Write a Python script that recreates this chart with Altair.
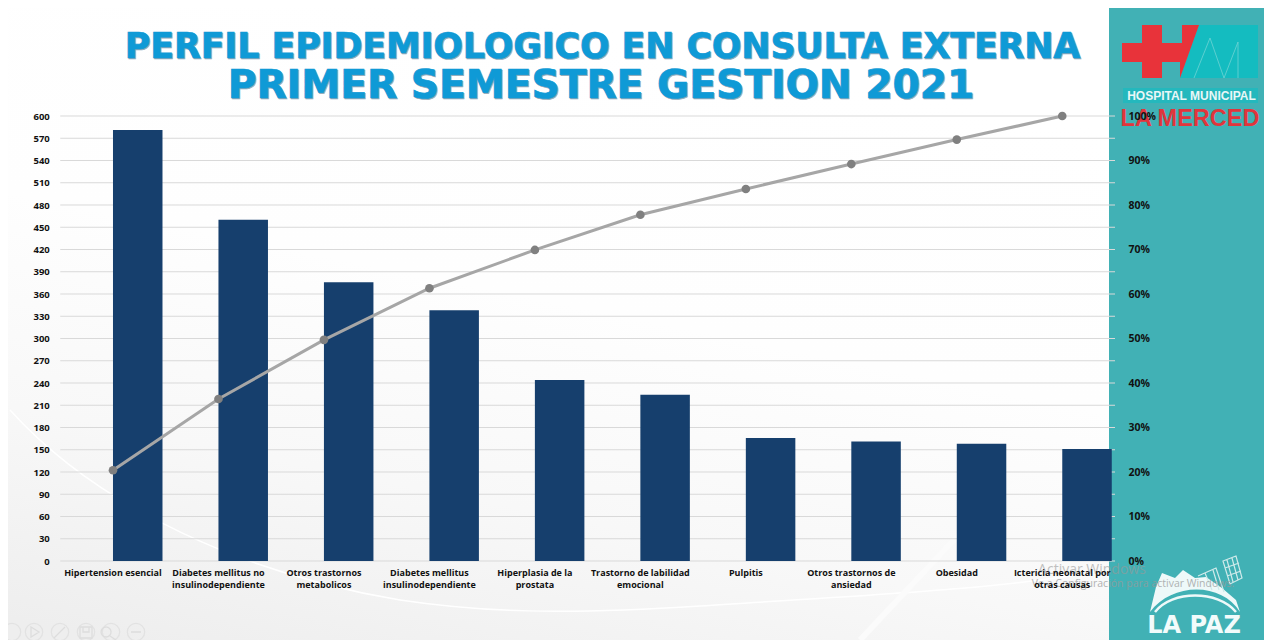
import altair as alt
import pandas as pd

categories = ["Hipertension esencial", "Diabetes mellitus no|insulinodependiente", "Otros trastornos|metabolicos",
              "Diabetes mellitus|insulinodependiente", "Hiperplasia de la|prostata", "Trastorno de labilidad|emocional",
              "Pulpitis", "Otros trastornos de|ansiedad", "Obesidad", "Ictericia neonatal por|otras causas"]
casos = [581, 460, 376, 338, 244, 224, 166, 161, 158, 151]
acumulado = [0.204, 0.364, 0.497, 0.613, 0.699, 0.778, 0.836, 0.892, 0.947, 1.0]
grid_values = list(range(0, 601, 30))
pct_ticks = [0, .1, .2, .3, .4, .5, .6, .7, .8, .9, 1]

df = pd.DataFrame({"cat": categories, "casos": casos, "acum": acumulado})
grid_df = pd.DataFrame({"v": grid_values})

OX, OY = 60.25, 116  # page position of the plot area
W, H = 1054.75, 445


def px(x):
    return alt.value(x - OX)


def py(y):
    return alt.value(y - OY)


base = alt.Chart(pd.DataFrame({"a": [0]}))


def rect(x0, y0, x1, y1, fill, **kw):
    return base.mark_rect(fill=fill, **kw).encode(x=px(x0), x2=px(x1), y=py(y0), y2=py(y1))


def shape(path, **kw):
    # path is written in page pixels; size=4 gives a scale of 1
    return base.mark_point(shape=path, size=4, opacity=1, **kw).encode(x=px(0), y=py(0))


def text(s, x, y, **kw):
    return base.mark_text(**kw).encode(x=px(x), y=py(y), text=alt.value(s))


bg = alt.Gradient(gradient="linear", x1=0.1, y1=1, x2=0.45, y2=0,
                  stops=[alt.GradientStop(offset=0, color="#eeeeee"),
                         alt.GradientStop(offset=0.3, color="#f8f8f8"),
                         alt.GradientStop(offset=0.6, color="#fefefe"),
                         alt.GradientStop(offset=1, color="#ffffff")])

layers = [
    rect(8, 8, 1109, 640, bg),
    shape("M10 410 C100 510 250 575 400 600 C480 612 560 615 700 606 C850 596 1000 590 1105 570", filled=False,
          stroke="#ffffff", strokeWidth=1.5),
    shape("M860 640 L1010 480", filled=False, stroke="#fbfbfb", strokeWidth=6),
    rect(1109, 8, 1272, 640, "#41b1b5"),
]

# H M logo
layers += [
    shape("M1199 25 H1258 V78 H1180 Z", filled=True, fill="#14bcc0", stroke=None),
    shape("M1122 43 H1142 V25 H1162 V43 H1182 V25 H1199 L1180 78 V62 H1162 V78 H1142 V62 H1122 Z",
          filled=True, fill="#e8333a", stroke=None),
    shape("M1194 78 L1210 38 L1224 78 L1238 42 V78", filled=False, stroke="#6fd3d4", strokeWidth=0.8),
    rect(1123, 88, 1258, 103, "#24b8bd"),
    text("HOSPITAL MUNICIPAL", 1191.5, 96, font="Liberation Sans", fontWeight="bold", fontSize=12,
         color="#e9f7f7", align="center", baseline="middle"),
    text("LA MERCED", 1190, 119, font="Liberation Sans", fontWeight="bold", fontSize=23.5, color="#e1353c",
         align="center", baseline="middle"),
]

# La Paz logo
layers += [
    shape("M1150 612 L1156 587 L1162 573 L1175 578 L1183 570 L1195 578 L1206 577 L1222 588 L1236 600 L1240 612 "
          "C1222 582 1172 582 1150 612 Z",
          filled=True, fill="#eef9f9", stroke=None),
    shape("M1155 612 C1172 590 1218 590 1236 612", filled=False, stroke="#eef9f9", strokeWidth=2.5),
    shape("M1223 561 L1236 556 L1242 578 L1230 584 Z M1227 560 L1233 582 M1232 558 L1238 580 M1225 568 L1239 563 "
          "M1227 576 L1241 571 M1198 576 L1216 568 L1224 592 M1205 573 L1212 590 M1213 570 L1219 590",
          filled=False, stroke="#cfeaea", strokeWidth=1.2),
    text("LA PAZ", 1194, 626, font="DejaVu Sans", fontWeight="bold", fontSize=24, color="#f2fbfb",
         align="center", baseline="middle"),
]

# presenter toolbar
for cx in [12, 34, 60, 86, 111, 136]:
    layers.append(base.mark_point(shape="circle", size=300, stroke="#e2e2e2", strokeWidth=1.3, opacity=1).encode(
        x=px(cx), y=py(632)))
layers.append(shape("M31 627 L39 632 L31 637 Z M54 638 L65 627 M80 627 H92 V638 H80 Z M83 627 V632 H89 V627 "
                    "M106 627 A5 5 0 1 0 106.1 627 M110 636 L116 640 M131 632 H141",
                    filled=False, stroke="#dddddd", strokeWidth=1.3))

# title with soft shadow
for dx, col in [(1, "#8fa9b8"), (0, "#0f9ad6")]:
    layers.append(text("PERFIL EPIDEMIOLOGICO EN CONSULTA EXTERNA", 602.5 + dx, 48 + dx, font="DejaVu Sans",
                       fontWeight="bold", fontSize=34.7, color=col, stroke=col, strokeWidth=0.7, align="center",
                       baseline="middle"))
    layers.append(text("PRIMER SEMESTRE GESTION 2021", 601 + dx, 86 + dx, font="DejaVu Sans",
                       fontWeight="bold", fontSize=39.2, color=col, stroke=col, strokeWidth=0.7, align="center",
                       baseline="middle"))

x_enc = alt.X("cat:N", sort=None, scale=alt.Scale(domain=categories, paddingInner=0, paddingOuter=0),
              axis=alt.Axis(title=None, labelAngle=0, ticks=False, domain=False, grid=False, labelColor="#111111",
                            labelFont="Open Sans", labelFontWeight="bold", labelFontSize=9, labelPadding=7,
                            labelLimit=0, labelExpr="split(datum.label, '|')", labelLineHeight=12, zindex=1))

rules = alt.Chart(grid_df).mark_rule(color="#d9d9d9", strokeWidth=1).encode(
    y=alt.Y("v:Q", scale=alt.Scale(domain=[0, 600]), axis=None),
    x=alt.value(0), x2=alt.value(W))

bars = alt.Chart(df).mark_bar(color="#163f6d", width=49.5, xOffset=24.75).encode(
    x=x_enc,
    y=alt.Y("casos:Q", scale=alt.Scale(domain=[0, 600]),
            axis=alt.Axis(title=None, values=grid_values, grid=False, ticks=False, domain=False, labelColor="#111111",
                          labelFont="Open Sans", labelFontWeight="bold", labelFontSize=9.5, labelPadding=11, zindex=1)))

line_y = alt.Y("acum:Q", scale=alt.Scale(domain=[0, 1]),
               axis=alt.Axis(title=None, orient="right", values=pct_ticks, format=".0%", grid=False, ticks=False,
                             domain=False, labelColor="#111111", labelFont="Open Sans", labelFontWeight="bold",
                             labelFontSize=10.5, labelPadding=13, zindex=1))
line = alt.Chart(df).mark_line(color="#a6a6a6", strokeWidth=3).encode(x=alt.X("cat:N", sort=None), y=line_y)
pts = alt.Chart(df).mark_point(filled=True, color="#808080", size=75, opacity=1).encode(
    x=alt.X("cat:N", sort=None), y=alt.Y("acum:Q", scale=alt.Scale(domain=[0, 1]), axis=None))

layers += [rules, bars, line, pts]

# windows watermark, on top of everything
layers += [
    text("Activar Windows", 1092, 570, font="Open Sans", fontSize=14, color="#9a9a9a", opacity=0.6, align="center",
         baseline="middle"),
    text("Ve a Configuración para activar Windows.", 1133, 584, font="Open Sans", fontSize=10.5, color="#9a9a9a",
         opacity=0.75, align="center", baseline="middle"),
]

chart = alt.layer(*layers).resolve_scale(y="independent").properties(
    width=W, height=H,
    padding={"left": OX - 8, "top": OY - 8, "right": 1256 - (OX - 8) - W, "bottom": 632 - (OY - 8) - H},
    autosize=alt.AutoSizeParams(type="none"),
    background="#ffffff",
).configure_view(stroke=None)

chart.save("out.html", embed_options={"renderer": "svg", "actions": False})
